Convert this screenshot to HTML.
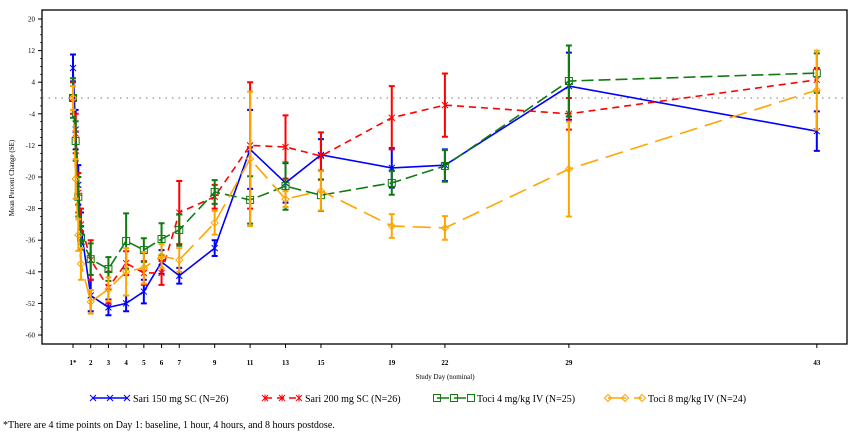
<!DOCTYPE html>
<html><head><meta charset="utf-8"><style>
body{margin:0;background:#fff;width:856px;height:431px;overflow:hidden;font-family:"Liberation Serif",serif}
svg text{font-family:"Liberation Serif",serif}
</style></head><body>
<svg id="chart" width="856" height="431" xmlns="http://www.w3.org/2000/svg">
<rect x="42" y="10" width="805" height="334" fill="none" stroke="#000" stroke-width="1.3"/>
<g id="axes"></g><g id="series"></g>
<text transform="translate(14,178) rotate(-90)" text-anchor="middle" font-size="7">Mean Percent Change (SE)</text>
<text x="445" y="379" text-anchor="middle" font-size="7">Study Day (nominal)</text>
<g id="legend"></g>
<text x="3" y="428" font-size="10">*There are 4 time points on Day 1:  baseline, 1 hour, 4 hours, and 8 hours postdose.</text>
</svg>
<script>
const days=[1,1.15,1.3,1.45,2,3,4,5,6,7,9,11,13,15,19,22,29,43];
const xTickDays=[1,2,3,4,5,6,7,9,11,13,15,19,22,29,43];
const xTickLabels=["1*","2","3","4","5","6","7","9","11","13","15","19","22","29","43"];
const yTicks=[20,12,4,-4,-12,-20,-28,-36,-44,-52,-60];
const sari150=[7.6,-8,-22,-33,-50,-53,-52,-49,-41.5,-45,-38,-13,-21.5,-14.4,-17.7,-17,3,-8.4];
const sari150SE=[3.4,5,5,4,4,2,2,3,3,2,2,10,5,4,5,4,8.5,5];
const sari200=[0,-9,-24,-32,-41,-48,-41.8,-44.3,-44.3,-29,-25,-12,-12.4,-14.7,-5,-1.8,-4,4.6];
const sari200SE=[4,5,5,4,5,4,3,3,3,8,3,16,8,6,8,8,4,3];
const toci4=[0,-10.9,-25,-35.4,-40.8,-43.3,-36.2,-38.5,-35.7,-33.4,-23.8,-25.8,-22.3,-24.6,-21.5,-17.2,4.3,6.3];
const toci4SE=[5,5,5,3,4,3,7,3,4,4,3,6,6,4,3,4,9,5];
const toci8=[0,-20.5,-34.7,-42,-51.6,-48.4,-44,-43,-40,-41,-31.6,-15.4,-25.6,-23.5,-32.4,-32.9,-18,2];
const toci8SE=[3,5,4,4,3,3,6,4,3,3,3,17,2,5,3,3,12,10];
const names=["Sari 150 mg SC (N=26)","Sari 200 mg SC (N=26)","Toci 4 mg/kg IV (N=25)","Toci 8 mg/kg IV (N=24)"];
const NS="http://www.w3.org/2000/svg";
const x=d=>73+(d-1)*17.71;
const y=v=>98-v*3.95;
function mk(tag,attrs,parent){const e=document.createElementNS(NS,tag);for(const k in attrs)e.setAttribute(k,attrs[k]);parent.appendChild(e);return e;}
const ax=document.getElementById('axes');
yTicks.forEach((t,i)=>{
  const l=mk('line',{x1:38,x2:42,y1:y(t),y2:y(t),stroke:'#000','stroke-width':1},ax);
  
  
  const tx=mk('text',{x:35,y:y(t)+2.5,'text-anchor':'end','font-size':7},ax);tx.textContent=t;
  
  
  if(i<yTicks.length-1){for(let k=1;k<4;k++){const m=mk('line',{x1:40,x2:42,y1:y(t-2*k),y2:y(t-2*k),stroke:'#000','stroke-width':0.7},ax);
  
  }}
});
xTickDays.forEach((d,i)=>{
  const l=mk('line',{x1:x(d),x2:x(d),y1:344,y2:348,stroke:'#000','stroke-width':1},ax);
  
  
  const tx=mk('text',{x:x(d),y:365,'text-anchor':'middle','font-size':7,'font-weight':'bold'},ax);tx.textContent=xTickLabels[i];
  
  
});
const ref=mk('line',{x1:42,x2:847,y1:y(0),y2:y(0),stroke:'#777','stroke-width':1,'stroke-dasharray':'1.5,5'},ax);


const S=[
 {v:sari150,se:sari150SE,c:'#0000ff',dash:'',m:'x',n:'sari-150'},
 {v:sari200,se:sari200SE,c:'#ff0000',dash:'7,5',m:'star',n:'sari-200'},
 {v:toci4,se:toci4SE,c:'#117a11',dash:'12,5',m:'sq',n:'toci-4'},
 {v:toci8,se:toci8SE,c:'#ffa500',dash:'18,8',m:'dia',n:'toci-8'}];
function marker(type,cx,cy,c,g){
  if(type==='x'){mk('path',{d:`M${cx-3},${cy-3}L${cx+3},${cy+3}M${cx-3},${cy+3}L${cx+3},${cy-3}`,stroke:c,'stroke-width':1,fill:'none'},g);}
  else if(type==='star'){mk('path',{d:`M${cx-3},${cy-3}L${cx+3},${cy+3}M${cx-3},${cy+3}L${cx+3},${cy-3}M${cx},${cy-3.5}L${cx},${cy+3.5}`,stroke:c,'stroke-width':1,fill:'none'},g);}
  else if(type==='sq'){mk('rect',{x:cx-3.5,y:cy-3.5,width:7,height:7,stroke:c,'stroke-width':1,fill:'none'},g);}
  else {mk('path',{d:`M${cx},${cy-3.5}L${cx+3.5},${cy}L${cx},${cy+3.5}L${cx-3.5},${cy}Z`,stroke:c,'stroke-width':1,fill:'none'},g);}
}
const sg=document.getElementById('series');
S.forEach(s=>{
  const g=mk('g',{},sg);
  
  
  s.v.forEach((v,i)=>{
    const cx=x(days[i]),lo=y(v-s.se[i]),hi=y(v+s.se[i]);
    const eb=mk('path',{d:`M${cx},${lo}L${cx},${hi}M${cx-3},${lo}L${cx+3},${lo}M${cx-3},${hi}L${cx+3},${hi}`,stroke:s.c,'stroke-width':2,fill:'none'},g);
    
    
  });
  const p=mk('polyline',{points:s.v.map((v,i)=>x(days[i])+','+y(v)).join(' '),fill:'none',stroke:s.c,'stroke-width':1.6,'stroke-dasharray':s.dash},g);
  
  
  s.v.forEach((v,i)=>marker(s.m,x(days[i]),y(v),s.c,g));
});
const lg=document.getElementById('legend');
const lx=[93,265,437,608];
S.forEach((s,i)=>{
  const g=mk('g',{},lg);
  
  
  mk('line',{x1:lx[i],x2:lx[i]+34,y1:398,y2:398,stroke:s.c,'stroke-width':1.6,'stroke-dasharray':s.dash},g);
  [lx[i],lx[i]+17,lx[i]+34].forEach(px=>marker(s.m,px,398,s.c,g));
  const t=mk('text',{x:lx[i]+40,y:402,'font-size':10},g);t.textContent=names[i];
});
</script>
</body></html>
